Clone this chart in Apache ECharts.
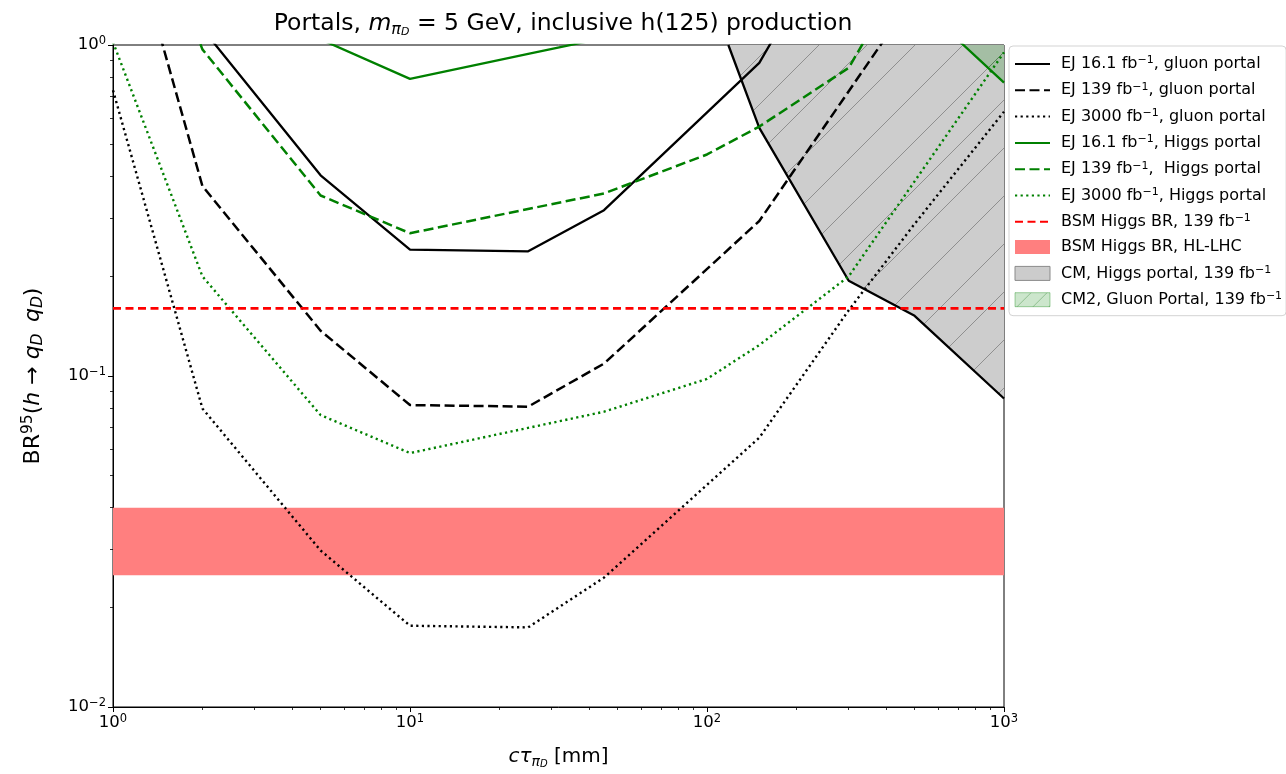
<!DOCTYPE html>
<html><head><meta charset="utf-8">
<script src="https://cdn.jsdelivr.net/npm/echarts@6/dist/echarts.min.js"></script>
<style>html,body{margin:0;padding:0;background:#fff}#c{width:1286px;height:774px}</style>
</head><body><div id="c"></div>
<script>
// axis limits and ticks
const xMin = 1, xMax = 1000, yMin = 0.01, yMax = 1;
const xMinorTicks = [2,3,4,5,6,7,8,9,20,30,40,50,60,70,80,90,200,300,400,500,600,700,800,900];
const yMinorTicks = [0.02,0.03,0.04,0.05,0.06,0.07,0.08,0.09,0.2,0.3,0.4,0.5,0.6,0.7,0.8,0.9];

// EJ gluon portal
const ejGluon161X  = [2, 5, 10, 25, 45, 150, 200];
const ejGluon161Y  = [1.12, 0.404, 0.241, 0.238, 0.317, 0.883, 1.38];
const ejGluon139X  = [1, 2, 5, 10, 25, 45, 150, 500];
const ejGluon139Y  = [3.4, 0.375, 0.137, 0.0817, 0.0808, 0.109, 0.294, 1.41];
const ejGluon3000X = [1, 2, 5, 10, 25, 45, 150, 300, 500, 1000];
const ejGluon3000Y = [0.73, 0.0798, 0.0297, 0.0176, 0.0174, 0.0246, 0.0651, 0.158, 0.288, 0.629];
// EJ Higgs portal
const ejHiggs161X  = [2, 5, 10, 25, 45, 150, 300, 500, 1000];
const ejHiggs161Y  = [3.0, 1.04, 0.79, 0.94, 1.05, 2.0, 2.0, 1.37, 0.77];
const ejHiggs139X  = [1, 2, 5, 10, 45, 100, 150, 300, 400];
const ejHiggs139Y  = [5.0, 0.97, 0.351, 0.27, 0.356, 0.467, 0.567, 0.853, 1.33];
const ejHiggs3000X = [1, 2, 5, 10, 45, 100, 150, 300, 1000];
const ejHiggs3000Y = [1.02, 0.2, 0.0762, 0.0585, 0.078, 0.098, 0.124, 0.2, 0.95];
// BSM Higgs BR
const bsmBR139 = 0.16;
const bsmHLLHC = [0.025, 0.04];
// CM regions (excluded above boundary)
const cmHiggsX = [118, 150, 300, 500, 1000];
const cmHiggsY = [1.0, 0.562, 0.194, 0.152, 0.0855];
const cm2GluonX = [500, 1000];
const cm2GluonY = [1.37, 0.77];

const zip = (xs, ys) => xs.map((x, i) => [x, ys[i]]);
const FONT = 'DejaVu Sans';

function hatch(bg, lineColor, size) {
  const c = document.createElement('canvas');
  c.width = size; c.height = size;
  const g = c.getContext('2d');
  g.fillStyle = bg; g.fillRect(0, 0, size, size);
  g.strokeStyle = lineColor; g.lineWidth = 1;
  for (let k = -1; k <= 1; k++) {
    g.beginPath(); g.moveTo(k * size, size); g.lineTo(k * size + size, 0); g.stroke();
  }
  return c;
}
const grayPattern = { image: hatch('#cdcdcd', '#8f8f8f', 48), repeat: 'repeat' };
const greenPattern = { image: hatch('rgba(0,128,0,0.2)', 'rgba(0,100,0,0.25)', 48), repeat: 'repeat' };
const greenIconPattern = { image: hatch('rgba(0,128,0,0.2)', 'rgba(0,100,0,0.3)', 16), repeat: 'repeat' };

const supRich = {
  base: { fontFamily: FONT, fontSize: 16.5, color: '#000', lineHeight: 20 },
  sup: { fontFamily: FONT, fontSize: 11.5, color: '#000', verticalAlign: 'top', lineHeight: 20, padding: [0, 0, 9, 0] }
};
const expLabel = v => {
  const e = Math.round(Math.log10(v));
  return '{base|10}{sup|' + (e < 0 ? '\u2212' + (-e) : e) + '}';
};

const FB = 'fb\u207B\u00B9';
const names = [
  'EJ 16.1 ' + FB + ', gluon portal',
  'EJ 139 ' + FB + ', gluon portal',
  'EJ 3000 ' + FB + ', gluon portal',
  'EJ 16.1 ' + FB + ', Higgs portal',
  'EJ 139 ' + FB + ',  Higgs portal',
  'EJ 3000 ' + FB + ', Higgs portal',
  'BSM Higgs BR, 139 ' + FB,
  'BSM Higgs BR, HL-LHC',
  'CM, Higgs portal, 139 ' + FB,
  'CM2, Gluon Portal, 139 ' + FB
];
const legendFormatter = name => {
  const i = name.indexOf(FB);
  if (i < 0) return '{t|' + name + '}';
  const pre = name.slice(0, i) + 'fb', post = name.slice(i + FB.length);
  return '{t|' + pre + '}{sup|\u22121}' + (post ? '{t|' + post.replace('  ', '\u00A0 ') + '}' : '');
};

const DASH = [10, 4.5], DOT = [2.2, 3.4];
function lineSeries(name, data, color, type, width) {
  return {
    name, type: 'line', data, symbol: 'none', z: 5, clip: true, silent: true,
    lineStyle: { color, type, width, cap: 'butt' }, itemStyle: { color }
  };
}
const hideSym = { opacity: 0 };

const chart = echarts.init(document.getElementById('c'));
chart.setOption({
  animation: false,
  backgroundColor: '#fff',
  textStyle: { fontFamily: FONT },
  title: {
    text: '{n|Portals, }{it|m}{sub|\u03C0}{sub2|D}{n| = 5 GeV, inclusive h(125) production}',
    left: 558, top: 5, textAlign: 'center',
    textStyle: {
      fontWeight: 'normal', color: '#000', fontFamily: FONT, fontSize: 23,
      rich: {
        n: { fontFamily: FONT, fontSize: 23.5, fontWeight: 'normal', color: '#000', lineHeight: 28 },
        it: { fontFamily: FONT, fontSize: 23.5, fontStyle: 'italic', fontWeight: 'normal', color: '#000', lineHeight: 28 },
        sub: { fontFamily: FONT, fontSize: 16, fontStyle: 'italic', fontWeight: 'normal', color: '#000', verticalAlign: 'bottom', lineHeight: 28, padding: [10, 0, 0, 0] },
        sub2: { fontFamily: FONT, fontSize: 11, fontStyle: 'italic', fontWeight: 'normal', color: '#000', verticalAlign: 'bottom', lineHeight: 28, padding: [15, 0, 0, 0] }
      }
    }
  },
  grid: { left: 113, top: 45, right: 282, bottom: 64, show: true, borderColor: '#000', borderWidth: 1, backgroundColor: 'transparent' },
  legend: {
    orient: 'vertical', left: 1009, top: 46,
    padding: [9, 4, 8, 5], itemGap: 9.3, itemWidth: 35, itemHeight: 14,
    backgroundColor: '#fff', borderColor: '#d3d3d3', borderWidth: 1, borderRadius: 4,
    formatter: legendFormatter,
    textStyle: { fontFamily: FONT, color: '#000', padding: [0, 0, 0, 6],
      rich: {
        t: { fontFamily: FONT, fontSize: 16, color: '#000', lineHeight: 18 },
        sup: { fontFamily: FONT, fontSize: 11, color: '#000', verticalAlign: 'top', lineHeight: 18, padding: [0, 0, 6, 0] }
      } },
    data: [
      { name: names[0], itemStyle: hideSym }, { name: names[1], itemStyle: hideSym },
      { name: names[2], itemStyle: hideSym }, { name: names[3], itemStyle: hideSym },
      { name: names[4], itemStyle: hideSym }, { name: names[5], itemStyle: hideSym },
      { name: names[6], itemStyle: hideSym },
      { name: names[7], icon: 'rect', itemStyle: { color: '#ff7f7f', borderWidth: 0, opacity: 1 } },
      { name: names[8], icon: 'rect', itemStyle: { color: '#cccccc', borderColor: '#8a8a8a', borderWidth: 1, opacity: 1 } },
      { name: names[9], icon: 'rect', itemStyle: { color: greenIconPattern, borderColor: 'rgba(0,128,0,0.35)', borderWidth: 1, opacity: 1 } }
    ]
  },
  xAxis: [{
    type: 'log', logBase: 10, min: xMin, max: xMax, position: 'bottom',
    name: '{it|c\u03C4}{sub|\u03C0}{sub2|D}{n| [mm]}', nameLocation: 'middle', nameGap: 38,
    nameTextStyle: { rich: {
      n: { fontFamily: FONT, fontSize: 20, color: '#000', lineHeight: 24 },
      it: { fontFamily: FONT, fontSize: 20, fontStyle: 'italic', color: '#000', lineHeight: 24 },
      sub: { fontFamily: FONT, fontSize: 14, fontStyle: 'italic', color: '#000', verticalAlign: 'bottom', lineHeight: 24, padding: [9, 0, 0, 0] },
      sub2: { fontFamily: FONT, fontSize: 10, fontStyle: 'italic', color: '#000', verticalAlign: 'bottom', lineHeight: 24, padding: [13, 0, 0, 0] }
    } },
    axisLine: { show: true, lineStyle: { color: '#000', width: 1 } },
    axisTick: { show: true, inside: false, length: 5, lineStyle: { color: '#000', width: 1 } },
    axisLabel: { formatter: expLabel, margin: 6, rich: supRich },
    splitLine: { show: false }, minorTick: { show: false }
  }, {
    type: 'log', logBase: 10, min: xMin, max: xMax, position: 'bottom', gridIndex: 0,
    axisLine: { show: false }, axisLabel: { show: false }, splitLine: { show: false },
    axisTick: { show: true, inside: false, length: 3, customValues: xMinorTicks, lineStyle: { color: '#000', width: 0.8 } }
  }],
  yAxis: [{
    type: 'log', logBase: 10, min: yMin, max: yMax, position: 'left',
    name: '{n|BR}{sup|95}{n|(}{it|h}{n| \u2192 }{it|q}{sub|D}{n|\u2009 }{it|q}{sub|D}{n|)}',
    nameLocation: 'middle', nameGap: 67, nameRotate: 90,
    nameTextStyle: { rich: {
      n: { fontFamily: FONT, fontSize: 22, color: '#000', lineHeight: 26 },
      it: { fontFamily: FONT, fontSize: 22, fontStyle: 'italic', color: '#000', lineHeight: 26 },
      sup: { fontFamily: FONT, fontSize: 15.5, color: '#000', verticalAlign: 'top', lineHeight: 26, padding: [0, 0, 10, 0] },
      sub: { fontFamily: FONT, fontSize: 15.5, fontStyle: 'italic', color: '#000', verticalAlign: 'bottom', lineHeight: 26, padding: [10, 0, 0, 0] }
    } },
    axisLine: { show: true, lineStyle: { color: '#000', width: 1 } },
    axisTick: { show: true, inside: false, length: 5, lineStyle: { color: '#000', width: 1 } },
    axisLabel: { formatter: expLabel, margin: 7, rich: supRich },
    splitLine: { show: false }, minorTick: { show: false }
  }, {
    type: 'log', logBase: 10, min: yMin, max: yMax, position: 'left', gridIndex: 0,
    axisLine: { show: false }, axisLabel: { show: false }, splitLine: { show: false },
    axisTick: { show: true, inside: false, length: 3, customValues: yMinorTicks, lineStyle: { color: '#000', width: 0.8 } }
  }],
  series: [
    {
      name: names[8], type: 'line', data: zip(cmHiggsX, cmHiggsY), symbol: 'none', z: 2, silent: true,
      lineStyle: { color: '#000', width: 2.3 }, itemStyle: { color: '#cccccc' },
      areaStyle: { origin: 'end', color: grayPattern, opacity: 1 }
    },
    {
      name: names[9], type: 'line', data: zip(cm2GluonX, cm2GluonY), symbol: 'none', z: 3, silent: true,
      lineStyle: { width: 0, opacity: 0 }, itemStyle: { color: 'rgba(0,128,0,0.25)' },
      areaStyle: { origin: 'end', color: greenPattern, opacity: 1 }
    },
    {
      name: names[7], type: 'line', data: [[xMin, bsmHLLHC[0]]], symbol: 'none', z: 1, silent: true,
      lineStyle: { width: 0, opacity: 0 }, itemStyle: { color: '#ff7f7f' },
      markArea: { silent: true, itemStyle: { color: '#ff7f7f', opacity: 1 },
        data: [[{ coord: [xMin, bsmHLLHC[0]] }, { coord: [xMax, bsmHLLHC[1]] }]] }
    },
    lineSeries(names[0], zip(ejGluon161X, ejGluon161Y), '#000', 'solid', 2.3),
    lineSeries(names[1], zip(ejGluon139X, ejGluon139Y), '#000', DASH, 2.5),
    lineSeries(names[2], zip(ejGluon3000X, ejGluon3000Y), '#000', DOT, 2.4),
    lineSeries(names[3], zip(ejHiggs161X, ejHiggs161Y), '#008000', 'solid', 2.3),
    lineSeries(names[4], zip(ejHiggs139X, ejHiggs139Y), '#008000', DASH, 2.5),
    lineSeries(names[5], zip(ejHiggs3000X, ejHiggs3000Y), '#008000', DOT, 2.4),
    lineSeries(names[6], [[xMin, bsmBR139], [xMax, bsmBR139]], '#ff0000', [8, 4.5], 2.8)
  ]
});
</script></body></html>
